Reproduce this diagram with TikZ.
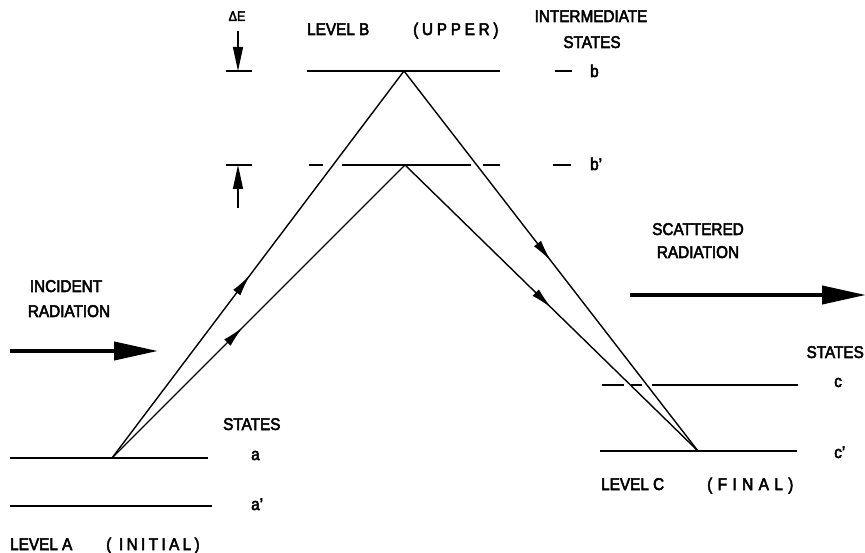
\documentclass[tikz,border=0pt]{standalone}
\usepackage{fontspec}
\setmainfont{Liberation Sans}[FakeStretch=0.9, FakeBold=3]
\usetikzlibrary{arrows.meta,decorations.markings}
\begin{document}
\begin{tikzpicture}[x=1pt,y=-1pt,
  lvl/.style={line width=1.6pt},
  ray/.style={line width=1.4pt},
  lab/.style={font=\fontsize{17}{19}\selectfont, inner sep=0pt},
  bigarrow/.style={line width=4pt, -{Triangle[length=44pt,width=18pt]}},
  dearrow/.style={line width=1.4pt, -{Triangle[length=24pt,width=10pt]}},
  midarrow/.style={postaction=decorate, decoration={markings,
      mark=at position #1 with {\arrow{Latex[length=22pt,width=9pt]}}}}
]
\useasboundingbox (0,0) rectangle (865,553);

% key points
\coordinate (A) at (112,458);
\coordinate (B) at (404,71);
\coordinate (Bp) at (405,165);
\coordinate (C) at (698,451);

% level lines
\draw[lvl] (10,458) coordinate (a1) -- (208,458) coordinate (a2);
\draw[lvl] (10,506) coordinate (ap1) -- (212,506) coordinate (ap2);
\draw[lvl] (307,71) coordinate (b1) -- (500,71) coordinate (b2);
\draw[lvl] (309,165) -- (323,165);
\draw[lvl] (342,165) -- (471,165);
\draw[lvl] (483,165) -- (500,165);
\draw[lvl] (602,385) -- (624,385);
\draw[lvl] (631,385) -- (642,385);
\draw[lvl] (652,385) -- (798,385);
\draw[lvl] (600,451) coordinate (c1) -- (797,451) coordinate (c2);
\draw[lvl] (555,71) -- (572,71);
\draw[lvl] (553,165) -- (571,165);

% transitions
\draw[ray, midarrow=0.473] (A) -- (B);
\draw[ray, midarrow=0.447] (A) -- (Bp);
\draw[ray, midarrow=0.50] (B) -- (C);
\draw[ray, midarrow=0.50] (Bp) -- (C);

% Delta E marker
\node[font=\fontsize{14}{15}\selectfont, inner sep=0pt, anchor=base] (dE) at (237,21) {ΔE};
\coordinate (dEtop) at (238,31);
\coordinate (dEt) at (238,71);
\draw[lvl] (226,71) -- (252,71);
\draw[dearrow] (dEtop) -- (dEt);
\coordinate (dEbot) at (238,208);
\coordinate (dEb) at (238,165);
\draw[lvl] (226,165) -- (252,165);
\draw[dearrow] (dEbot) -- (dEb);

% radiation arrows
\coordinate (inS) at (10,351);
\coordinate (inE) at (158,351);
\draw[bigarrow] (inS) -- (inE);
\coordinate (scS) at (630,295);
\coordinate (scE) at (866,295);
\draw[bigarrow] (scS) -- (scE);

% labels
\node[lab, anchor=base west] (lvB) at (307,35) {LEVEL B};
\node[lab, anchor=base west] (upper) at (413,35) {\addfontfeature{LetterSpace=22}(UPPER)};
\node[lab, anchor=base] (inter) at (591,22) {INTERMEDIATE};
\node[lab, anchor=base] (istates) at (592,48) {STATES};
\node[lab, anchor=base west] (lb) at (590,77) {b};
\node[lab, anchor=base west] (lbp) at (590,170) {b'};

\node[lab, anchor=base] (inc1) at (66,292) {INCIDENT};
\node[lab, anchor=base] (inc2) at (69,317) {RADIATION};
\node[lab, anchor=base] (sc1) at (698,235) {SCATTERED};
\node[lab, anchor=base] (sc2) at (698,258) {RADIATION};

\node[lab, anchor=base west] (astates) at (223,430) {STATES};
\node[lab, anchor=base west] (la) at (251,460) {a};
\node[lab, anchor=base west] (lap) at (251,510) {a'};
\node[lab, anchor=base west] (lvA) at (10,550) {LEVEL A};
\node[lab, anchor=base west] (init) at (106,550) {\addfontfeature{LetterSpace=20}( INITIAL)};

\node[lab, anchor=base east] (cstates) at (864,358) {STATES};
\node[lab, anchor=base west] (lc) at (834,387) {c};
\node[lab, anchor=base west] (lcp) at (834,458) {c'};
\node[lab, anchor=base west] (lvC) at (601,490) {LEVEL C};
\node[lab, anchor=base west] (final) at (707,490) {\addfontfeature{LetterSpace=32}(FINAL)};
\end{tikzpicture}
\end{document}
